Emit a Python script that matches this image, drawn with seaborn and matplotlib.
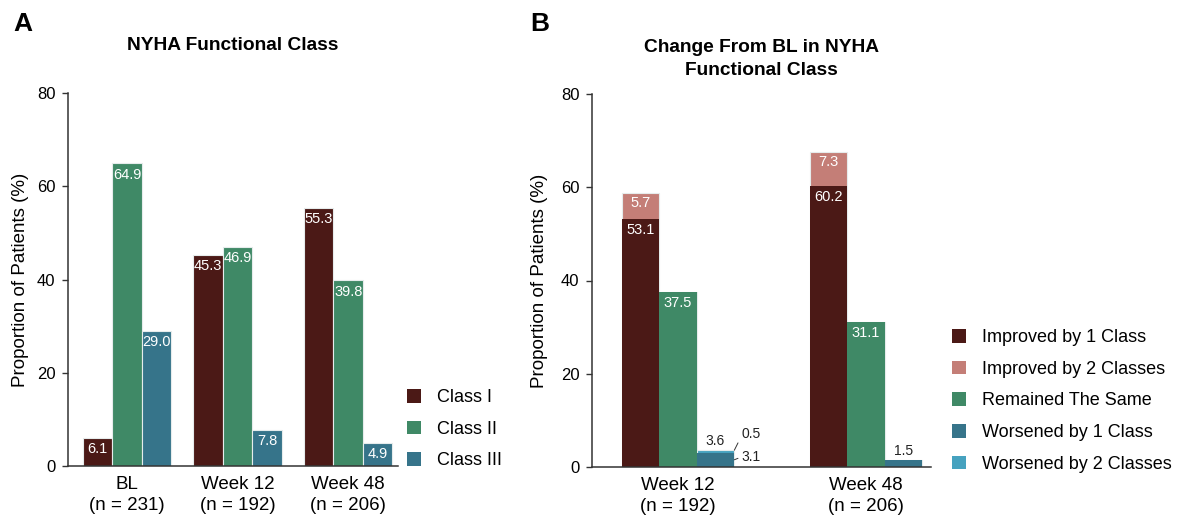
import matplotlib
matplotlib.use("Agg")
import matplotlib.pyplot as plt
from matplotlib.patches import Patch
import numpy as np
import pandas as pd
import seaborn as sns

sns.set_theme(style="white")
plt.rcParams["font.family"] = ["Liberation Sans", "DejaVu Sans"]
plt.rcParams.update({"text.color": "black", "axes.labelcolor": "black",
                     "xtick.color": "black", "ytick.color": "black"})

# ---- Panel A: NYHA class distribution by visit ----
visits_a = ["BL\n(n = 231)", "Week 12\n(n = 192)", "Week 48\n(n = 206)"]
classes = ["Class I", "Class II", "Class III"]
class_i = [6.1, 45.3, 55.3]
class_ii = [64.9, 46.9, 39.8]
class_iii = [29.0, 7.8, 4.9]

# ---- Panel B: change from baseline ----
visits_b = ["Week 12\n(n = 192)", "Week 48\n(n = 206)"]
improved_1 = [53.1, 60.2]
improved_2 = [5.7, 7.3]
remained = [37.5, 31.1]
worsened_1 = [3.1, 1.5]
worsened_2 = [0.5, 0.0]

c_maroon = "#4b1916"
c_salmon = "#c47e77"
c_green = "#3f8966"
c_teal = "#36748a"
c_lblue = "#46a2bf"

W, H = 1181, 525
fig = plt.figure(figsize=(W / 100, H / 100), dpi=100)


def px_axes(left, right, top, bottom):
    return fig.add_axes([left / W, 1 - bottom / H, (right - left) / W, (bottom - top) / H])


ax_a = px_axes(68, 398, 93, 466)
ax_b = px_axes(592, 931, 94, 467)

tick_fs = 12
label_fs = 13.5
legend_fs = 13
val_fs = 10.5
title_fs = 13.8
edge_c = "#e6ecec"

# ---------------- Panel A ----------------
df_a = pd.DataFrame({
    "visit": visits_a * 3,
    "cls": [c for c in classes for _ in visits_a],
    "value": class_i + class_ii + class_iii,
})
sns.barplot(data=df_a, x="visit", y="value", hue="cls", order=visits_a,
            hue_order=classes, palette=[c_maroon, c_green, c_teal], saturation=1,
            width=0.8, edgecolor=edge_c, linewidth=0.8, ax=ax_a,
            legend=False, errorbar=None)

for cont in ax_a.containers:
    for bar in cont:
        h = bar.get_height()
        ax_a.annotate(f"{h:.1f}", (bar.get_x() + bar.get_width() / 2, h),
                      xytext=(0, -8), textcoords="offset points",
                      ha="center", va="center", color="white", fontsize=val_fs)

ax_a.set_xlim(-0.534, 2.45)
ax_a.set_title("NYHA Functional Class", fontsize=title_fs, fontweight="bold", pad=0,
               y=(466 - 46) / (466 - 93), va="center")

ax_a.legend(handles=[Patch(facecolor=c, edgecolor="none") for c in [c_maroon, c_green, c_teal]],
            labels=classes, loc="upper left",
            bbox_to_anchor=(407 / W, 1 - 389 / H), bbox_transform=fig.transFigure,
            frameon=False, fontsize=legend_fs, handlelength=0.8, handleheight=0.8,
            handletextpad=0.85, labelspacing=0.8, borderpad=0, borderaxespad=0)

# ---------------- Panel B ----------------
groups_b = ["Improved", "Remained", "Worsened"]
improved_tot = list(np.add(improved_1, improved_2))
worsened_tot = list(np.add(worsened_1, worsened_2))

df_top = pd.DataFrame({
    "visit": visits_b * 3,
    "grp": [g for g in groups_b for _ in visits_b],
    "value": improved_tot + remained + worsened_tot,
})
df_base = pd.DataFrame({
    "visit": visits_b * 3,
    "grp": [g for g in groups_b for _ in visits_b],
    "value": improved_1 + remained + worsened_1,
})

# stacked segments: full totals first, then the lower segment drawn over them
sns.barplot(data=df_top, x="visit", y="value", hue="grp", order=visits_b,
            hue_order=groups_b, palette=[c_salmon, c_green, c_lblue], saturation=1,
            width=0.6, edgecolor=edge_c, linewidth=0.8, ax=ax_b,
            legend=False, errorbar=None)
sns.barplot(data=df_base, x="visit", y="value", hue="grp", order=visits_b,
            hue_order=groups_b, palette=[c_maroon, c_green, c_teal], saturation=1,
            width=0.6, edgecolor="none", linewidth=0, ax=ax_b,
            legend=False, errorbar=None)

base_conts = ax_b.containers[3:]

# improved: labels on both segments
for i, bb in enumerate(base_conts[0]):
    cx = bb.get_x() + bb.get_width() / 2
    ax_b.annotate(f"{improved_1[i]:.1f}", (cx, improved_1[i]), xytext=(0, -7.5),
                  textcoords="offset points", ha="center", va="center",
                  color="white", fontsize=val_fs)
    ax_b.annotate(f"{improved_2[i]:.1f}", (cx, improved_tot[i]), xytext=(0, -7),
                  textcoords="offset points", ha="center", va="center",
                  color="white", fontsize=val_fs)
# remained
for i, bb in enumerate(base_conts[1]):
    cx = bb.get_x() + bb.get_width() / 2
    ax_b.annotate(f"{remained[i]:.1f}", (cx, remained[i]), xytext=(0, -8),
                  textcoords="offset points", ha="center", va="center",
                  color="white", fontsize=val_fs)
# worsened: totals above, components with leader lines
for i, bb in enumerate(base_conts[2]):
    cx = bb.get_x() + bb.get_width() / 2
    ax_b.annotate(f"{worsened_tot[i]:.1f}", (cx, worsened_tot[i]), xytext=(0, 6.5),
                  textcoords="offset points", ha="center", va="center",
                  color="#222222", fontsize=val_fs - 0.5)
    if worsened_2[i] > 0:
        xr = bb.get_x() + bb.get_width()
        ax_b.annotate(f"{worsened_2[i]:.1f}", (xr, worsened_tot[i]), xytext=(5, 12),
                      textcoords="offset points", ha="left", va="center",
                      color="#222222", fontsize=val_fs - 0.5,
                      arrowprops=dict(arrowstyle="-", color="#333333", lw=0.7,
                                      shrinkA=0, shrinkB=0, relpos=(0, 0.3)))
        ax_b.annotate(f"{worsened_1[i]:.1f}", (xr, worsened_1[i] * 0.5), xytext=(5, 2),
                      textcoords="offset points", ha="left", va="center",
                      color="#222222", fontsize=val_fs - 0.5,
                      arrowprops=dict(arrowstyle="-", color="#333333", lw=0.7,
                                      shrinkA=0, shrinkB=0, relpos=(0, 0.5)))

ax_b.set_xlim(-0.457, 1.346)
ax_b.set_title("Change From BL in NYHA\nFunctional Class", fontsize=title_fs,
               fontweight="bold", pad=0, y=(467 - 59) / (467 - 94), va="center",
               linespacing=1.4)

legend_b = ["Improved by 1 Class", "Improved by 2 Classes", "Remained The Same",
            "Worsened by 1 Class", "Worsened by 2 Classes"]
ax_b.legend(handles=[Patch(facecolor=c, edgecolor="none")
                     for c in [c_maroon, c_salmon, c_green, c_teal, c_lblue]],
            labels=legend_b, loc="upper left",
            bbox_to_anchor=(952 / W, 1 - 329 / H), bbox_transform=fig.transFigure,
            frameon=False, fontsize=legend_fs, handlelength=0.8, handleheight=0.8,
            handletextpad=0.85, labelspacing=0.8, borderpad=0, borderaxespad=0)

# ---------------- shared styling ----------------
for ax, lab_x in [(ax_a, -39 / 330), (ax_b, -44 / 339)]:
    ax.set_ylim(0, 80)
    ax.set_yticks([0, 20, 40, 60, 80])
    ax.set_xlabel("")
    ax.set_ylabel("Proportion of Patients (%)", fontsize=label_fs)
    ax.yaxis.set_label_coords(lab_x, 0.5)
    for s in ["top", "right"]:
        ax.spines[s].set_visible(False)
    for s in ["left", "bottom"]:
        ax.spines[s].set_color("#333333")
        ax.spines[s].set_linewidth(1.1)
    ax.tick_params(axis="y", direction="out", length=4, width=1, color="#333333",
                   labelsize=tick_fs, pad=5, left=True)
    ax.tick_params(axis="x", length=0, labelsize=label_fs, pad=7)
    for t in ax.get_xticklabels():
        t.set_linespacing(1.35)

fig.text(13 / W, 1 - 12 / H, "A", fontsize=19, fontweight="bold", ha="left", va="top")
fig.text(530 / W, 1 - 12 / H, "B", fontsize=19, fontweight="bold", ha="left", va="top")

fig.savefig("out.png", dpi=100, facecolor="white")
